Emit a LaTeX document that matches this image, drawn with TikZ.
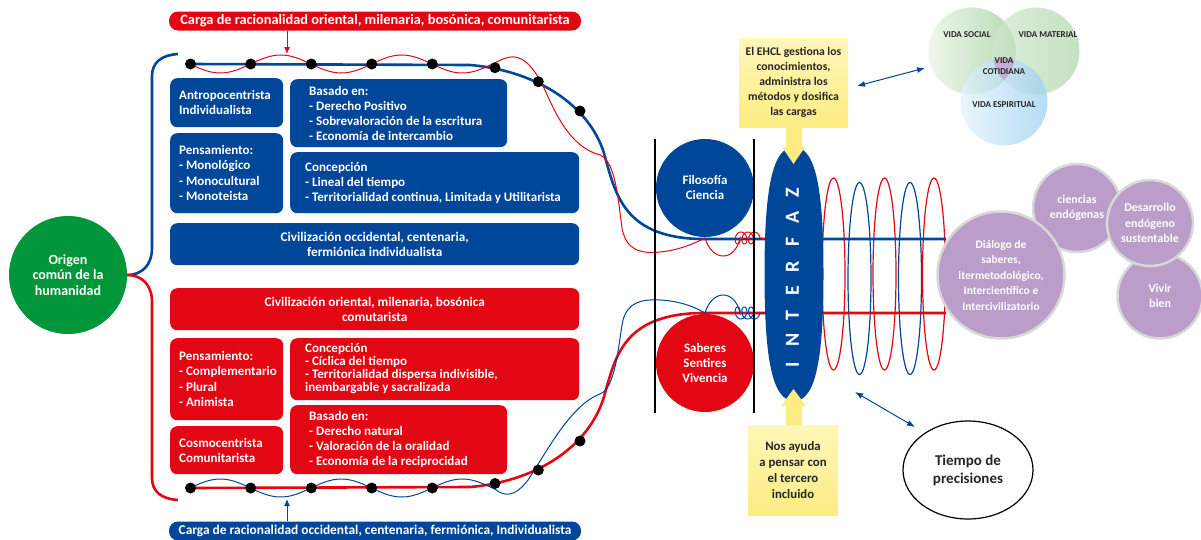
\documentclass[tikz,border=0pt]{standalone}
\usepackage{fontspec}
\setmainfont{Carlito}
\usetikzlibrary{arrows.meta,shapes.geometric,calc}
\definecolor{cblue}{RGB}{0,71,153}
\definecolor{cred}{RGB}{227,6,19}
\definecolor{cgreen}{RGB}{0,150,57}
\definecolor{cpurple}{RGB}{186,157,200}
\definecolor{cgrayb}{RGB}{216,216,216}
\definecolor{cyel}{RGB}{252,236,130}
\definecolor{cyelL}{RGB}{255,247,185}
\definecolor{cvgL}{RGB}{236,245,233}
\definecolor{cvg}{RGB}{170,212,166}
\definecolor{cvbL}{RGB}{226,242,252}
\definecolor{cvb}{RGB}{150,205,242}
\definecolor{cvp}{RGB}{196,172,212}
\begin{document}
\begin{tikzpicture}[x=1pt,y=-1pt,
  box/.style={rounded corners=7pt, inner sep=0pt, anchor=north west},
  btxt/.style={text=white, font=\bfseries\fontsize{13}{15}\selectfont, align=left, inner sep=0pt, anchor=west},
  ctxt/.style={text=white, font=\bfseries\fontsize{13.2}{14.5}\selectfont, align=center, inner sep=0pt},
  dot/.style={circle, fill=black, inner sep=0pt, minimum size=11pt},
  lbl/.style={rounded corners=9pt, minimum width=412pt, minimum height=19pt, inner sep=0pt, text=white, font=\bfseries\fontsize{14.3}{15}\selectfont},
  bigline/.style={line width=2.6pt},
  thinline/.style={line width=1pt},
  coil/.style={line width=1.2pt},
  pcirc/.style={circle, fill=cpurple, draw=cgrayb, line width=2.5pt, inner sep=0pt, text=white, font=\bfseries\fontsize{12}{15.5}\selectfont, align=center},
  ybox/.style={top color=cyelL, bottom color=cyel, inner sep=0pt, font=\bfseries\fontsize{11.7}{15}\selectfont, align=center, text=black!85},
  venn/.style={circle, inner sep=0pt, minimum size=87pt},
  vtxt/.style={font=\bfseries\fontsize{9}{11.5}\selectfont, text=black!85, inner sep=0pt, align=center},
  dblarrow/.style={cblue, line width=1pt, {Latex[length=8pt,width=6pt]}-{Latex[length=8pt,width=6pt]}}
]
\useasboundingbox (0,0) rectangle (1201,539);

% ---------- origin and brackets
\node[circle, fill=cgreen, minimum size=118pt, inner sep=0pt, text=white, align=center,
      font=\bfseries\fontsize{14}{15.5}\selectfont] (origen) at (68,275) {Origen\\común de la\\humanidad};
\coordinate (bt) at (178,54);
\coordinate (bb) at (178,500);
\draw[cblue, bigline] (origen.east) .. controls (142,275) and (152,265) .. (152,248) -- (152,76) .. controls (152,62) and (162,55) .. (bt);
\draw[cred, bigline] (origen.east) .. controls (142,275) and (152,285) .. (152,302) -- (152,478) .. controls (152,492) and (162,499) .. (bb);

% ---------- blue boxes
\node[box, fill=cblue, minimum width=113pt, minimum height=49pt] (antro) at (170,78) {};
\node[btxt] (antrot) at ([xshift=9pt]antro.west) {Antropocentrista\\Individualista};
\node[box, fill=cblue, minimum width=113pt, minimum height=80pt] (pens) at (170,133) {};
\node[btxt, font=\bfseries\fontsize{13}{15.5}\selectfont] (penst) at ([xshift=9pt]pens.west) {Pensamiento:\\- Monológico\\- Monocultural\\- Monoteista};
\node[box, fill=cblue, minimum width=217pt, minimum height=68pt] (bas) at (290,79) {};
\node[btxt] (bast) at ([xshift=19pt]bas.west) {Basado en:\\- Derecho Positivo\\- Sobrevaloración de la escritura\\- Economía de intercambio};
\node[box, fill=cblue, minimum width=289pt, minimum height=61pt] (con) at (290,152) {};
\node[btxt] (cont) at ([xshift=15pt]con.west) {Concepción\\- Lineal del tiempo\\- Territorialidad continua, Limitada y Utilitarista};
\node[box, fill=cblue, minimum width=409pt, minimum height=42pt] (civo) at (170,223) {};
\node[ctxt] (civot) at (civo.center) {Civilización occidental, centenaria,\\fermiónica individualista};

% ---------- red boxes
\node[box, fill=cred, minimum width=409pt, minimum height=42pt] (civr) at (170,288) {};
\node[ctxt] (civrt) at (civr.center) {Civilización oriental, milenaria, bosónica\\comutarista};
\node[box, fill=cred, minimum width=113pt, minimum height=82pt] (pensr) at (170,338) {};
\node[btxt, font=\bfseries\fontsize{13}{15.5}\selectfont] (pensrt) at ([xshift=9pt]pensr.west) {Pensamiento:\\- Complementario\\- Plural\\- Animista};
\node[box, fill=cred, minimum width=289pt, minimum height=62pt] (conr) at (290,338) {};
\node[btxt, font=\bfseries\fontsize{13}{13}\selectfont] (conrt) at ([xshift=15pt,yshift=0.5pt]conr.west) {Concepción\\- Cíclica del tiempo\\- Territorialidad dispersa indivisible,\\inembargable y sacralizada};
\node[box, fill=cred, minimum width=113pt, minimum height=48pt] (cosmo) at (170,426) {};
\node[btxt] (cosmot) at ([xshift=9pt]cosmo.west) {Cosmocentrista\\Comunitarista};
\node[box, fill=cred, minimum width=217pt, minimum height=69pt] (basr) at (290,405) {};
\node[btxt] (basrt) at ([xshift=19pt]basr.west) {Basado en:\\- Derecho natural\\- Valoración de la oralidad\\- Economía de la reciprocidad};

% ---------- labels
\node[lbl, fill=cred] (toplbl) at (375,21) {Carga de racionalidad oriental, milenaria, bosónica, comunitarista};
\node[lbl, fill=cblue, font=\bfseries\fontsize{13.4}{15}\selectfont] (botlbl) at (375,531) {Carga de racionalidad occidental, centenaria, fermiónica, Individualista};
\coordinate (ta) at (287,54);
\coordinate (ba) at (287,499);
\draw[cred, line width=1pt, -{Latex[length=7pt,width=6pt]}] (toplbl.south -| ta) -- (ta);
\draw[cblue, line width=1pt, -{Latex[length=7pt,width=6pt]}] (botlbl.north -| ba) -- (ba);

% ---------- circles between the black lines
\node[circle, fill=cblue, minimum size=98pt, inner sep=0pt, text=white, align=center,
      font=\bfseries\fontsize{12.9}{15}\selectfont] (filo) at (705,188) {Filosofía\\Ciencia};
\node[circle, fill=cred, minimum size=98pt, inner sep=0pt, text=white, align=center,
      font=\bfseries\fontsize{12.9}{15}\selectfont] (sab) at (705,363) {Saberes\\Sentires\\Vivencia};

% ---------- coils right of the interface
\foreach \cx/\col/\cy [count=\i] in {833.5/cred/274, 859.5/cblue/278.5, 884.5/cred/274, 910/cblue/278.5, 934/cred/274}
  \draw[\col, coil] (\cx,\cy) ellipse (11.5 and 96);

% ---------- main thick lines
\draw[cblue, bigline] (190,64) -- (470,65) .. controls (530,70) and (585,100) .. (603,150)
   .. controls (615,190) and (620,237) .. (700,239) -- (946,239);
\draw[cred, bigline] (190,488) -- (470,487) .. controls (530,482) and (585,452) .. (603,400)
   .. controls (615,360) and (620,315) .. (700,313) -- (946,313);

% ---------- thin waves
\draw[cred, thinline] plot[domain=190:495, samples=90, smooth] (\x, {64+9*sin(2.97521*(\x-190))})
   .. controls (510,55) and (525,48) .. (545,90) .. controls (560,125) and (575,148) .. (600,155)
   .. controls (616,162) and (618,200) .. (622,228) .. controls (626,250) and (640,254) .. (660,252)
   .. controls (680,250) and (695,243) .. (705,238)
   .. controls (712,262) and (735,262) .. (740,238)
   -- plot[variable=\t, domain=0:1080, samples=120, smooth] ({740+\t/54+4*cos(\t)-4}, {238+6*sin(\t)})
   -- (768,239);
\draw[cblue, thinline] plot[domain=190:495, samples=90, smooth] (\x, {488-9*sin(2.97521*(\x-190))})
   .. controls (505,497) and (515,497) .. (528,480) .. controls (545,455) and (570,405) .. (600,394)
   .. controls (616,388) and (618,345) .. (623,320) .. controls (628,302) and (642,299) .. (660,300)
   .. controls (680,301) and (695,307) .. (705,313)
   .. controls (712,289) and (735,289) .. (740,313)
   -- plot[variable=\t, domain=0:1080, samples=120, smooth] ({740+\t/54+4*cos(\t)-4}, {313-6*sin(\t)})
   -- (768,313);

% ---------- dots
\foreach \px/\py [count=\i] in {190.5/64, 250.7/64, 311.3/64, 371.7/64, 432.3/64, 495/67.7, 538.3/81.7, 580/111}
  \node[dot] (td\i) at (\px,\py) {};
\foreach \px/\py [count=\i] in {190.5/488, 250.7/488, 311.3/488, 371.7/488, 432.3/488, 495/483.5, 538.3/470, 580/441}
  \node[dot] (bd\i) at (\px,\py) {};

% ---------- black vertical lines
\coordinate (v1t) at (655,139); \coordinate (v1b) at (655,413);
\coordinate (v2t) at (754,139); \coordinate (v2b) at (754,413);
\draw[black, line width=2.8pt] (v1t) -- (v1b);
\draw[black, line width=2.8pt] (v2t) -- (v2b);

% ---------- interface
\fill[cblue] (764.5,274) .. controls (764.5,190) and (772,147) .. (794,147)
   .. controls (816,147) and (823.5,190) .. (823.5,274)
   .. controls (823.5,358) and (816,401) .. (794,401)
   .. controls (772,401) and (764.5,358) .. (764.5,274);
\foreach \l [count=\i] in {I,N,T,E,R,F,A,Z}
  \node[rotate=90, text=white, inner sep=0pt, font=\bfseries\fontsize{20}{20}\selectfont] (if\i) at (792.5,{364.5-(\i-1)*24.5}) {\l};

% ---------- yellow boxes and arrows
\node[ybox, minimum width=109pt, minimum height=89pt] (ehcl) at (793.5,82.5) {El EHCL gestiona los\\conocimientos,\\administra los\\métodos y dosifica\\las cargas};
\node[ybox, minimum width=90pt, minimum height=90pt, font=\bfseries\fontsize{12.8}{16}\selectfont] (nos) at (793,470) {Nos ayuda\\a pensar con\\el tercero\\incluido};
\fill[cyel] (786,127) -- (786,147) -- (782,147) -- (793.5,164) -- (805,147) -- (802,147) -- (802,127) -- cycle;
\fill[cyel] (786,425) -- (786,406) -- (781,406) -- (793.5,389) -- (806,406) -- (802,406) -- (802,425) -- cycle;

% ---------- purple circles
\node[pcirc, minimum size=85pt] (vivir) at (1160,296) {Vivir\\bien};
\node[pcirc, minimum size=88pt] (cien) at (1077,208) {ciencias\\endógenas};
\node[pcirc, minimum size=86pt] (desa) at (1150,223) {Desarrollo\\endógeno\\sustentable};
\node[pcirc, minimum size=127pt, font=\bfseries\fontsize{11.5}{15.5}\selectfont] (dial) at (1001,275) {Diálogo de\\saberes,\\itermetodológico,\\Intercientífico e\\Intercivilizatorio};

% ---------- Venn diagram
\node[venn, left color=cvgL, right color=cvg, fill opacity=0.85] (vsoc) at (972,51) {};
\node[venn, left color=cvgL!60!cvg, right color=cvg, fill opacity=0.7] (vmat) at (1036,51) {};
\node[venn, left color=cvbL, right color=cvb, fill opacity=0.7] (vesp) at (1004,102) {};
\begin{scope}
  \clip (vsoc.center) circle (43.5pt);
  \clip (vmat.center) circle (43.5pt);
  \fill[cvp] (vesp.center) circle (43.5pt);
\end{scope}
\node[vtxt] (tsoc) at (967,35) {VIDA SOCIAL};
\node[vtxt] (tmat) at (1048,35) {VIDA MATERIAL};
\node[vtxt] (tcot) at (1004,66) {VIDA\\COTIDIANA};
\node[vtxt] (tesp) at (1004,105) {VIDA ESPIRITUAL};

% ---------- Tiempo de precisiones
\node[draw=black, line width=1.2pt, ellipse, minimum width=130pt, minimum height=98pt, inner sep=0pt,
      align=center, font=\bfseries\fontsize{15}{18}\selectfont, text=black!85] (tiempo) at (968,470) {Tiempo de\\precisiones};

% ---------- double arrows
\coordinate (da1) at (857,86); \coordinate (da2) at (925,68);
\draw[dblarrow] (da1) -- (da2);
\coordinate (db1) at (855,392); \coordinate (db2) at (915,427);
\draw[dblarrow] (db1) -- (db2);
\end{tikzpicture}
\end{document}
